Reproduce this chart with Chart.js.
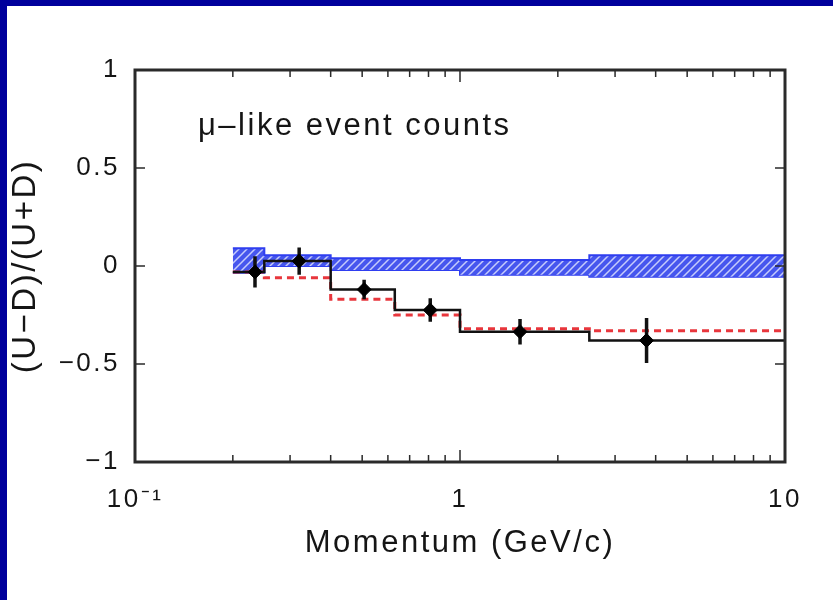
<!DOCTYPE html>
<html>
<head>
<meta charset="utf-8">
<script src="https://cdn.jsdelivr.net/npm/chart.js@4.4.1/dist/chart.umd.min.js"></script>
<style>
  html, body { margin: 0; padding: 0; background: #fff; }
  #wrap { position: relative; width: 833px; height: 600px; }
  .edge { position: absolute; background: #00009c; }
</style>
</head>
<body>
<div id="wrap">
  <canvas id="ratioChart"></canvas>
  <div class="edge" style="left:0;top:0;width:833px;height:6px"></div>
  <div class="edge" style="left:0;top:0;width:7px;height:600px"></div>
</div>
<script>
// bin edges in momentum (GeV/c)
const binEdges = [0.2, 0.25, 0.4, 0.63, 1.0, 2.5, 10];

// no-oscillation MC band (upper / lower edge per bin)
const noOscHigh = [0.09, 0.055, 0.04, 0.04, 0.03, 0.055];
const noOscLow = [-0.035, 0.0, -0.02, -0.02, -0.045, -0.055];

// oscillated MC (red dashed)
const oscMC = [-0.03, -0.06, -0.17, -0.25, -0.32, -0.33];

// data: bin value, marker position, error
const dataRatio = [-0.03, 0.025, -0.12, -0.225, -0.335, -0.38];
const pointMomentum = [0.234, 0.32, 0.507, 0.81, 1.53, 3.75];
const pointError = [0.08, 0.07, 0.05, 0.06, 0.065, 0.115];

// axis ticks
const yTicks = [-1, -0.5, 0, 0.5, 1];
const xMajor = [0.1, 1, 10];
const xMinor = [0.2, 0.3, 0.4, 0.5, 0.6, 0.7, 0.8, 0.9, 2, 3, 4, 5, 6, 7, 8, 9];
const xLabels = { 0.1: '10\u207B\u00B9', 1: '1', 10: '10' };

const FONT = "'Liberation Sans', Arial, sans-serif";
const TXT = '#151515';

// step helper: one point per edge, last value repeated at the final edge
function stepPoints(values) {
    return binEdges.map((e, i) => ({ x: e, y: values[Math.min(i, values.length - 1)] }));
}

// error bars as one line broken by nulls
const errorBars = [];
pointMomentum.forEach((p, i) => {
    errorBars.push({ x: p, y: dataRatio[i] - pointError[i] });
    errorBars.push({ x: p, y: dataRatio[i] + pointError[i] });
    errorBars.push({ x: p, y: null });
});

// hatch pattern for the blue band
function makeHatch() {
    const c = document.createElement('canvas');
    c.width = 8; c.height = 8;
    const g = c.getContext('2d');
    g.fillStyle = '#4656ee';
    g.fillRect(0, 0, 8, 8);
    g.strokeStyle = 'rgba(230,234,255,0.8)';
    g.lineWidth = 1.5;
    g.beginPath();
    g.moveTo(0, 8); g.lineTo(8, 0);
    g.moveTo(-2, 2); g.lineTo(2, -2);
    g.moveTo(6, 10); g.lineTo(10, 6);
    g.stroke();
    return g.createPattern(c, 'repeat');
}

// wider letter spacing, like the scanned figure
const spacingPlugin = {
    id: 'spacing',
    beforeLayout(chart) { chart.ctx.letterSpacing = '2.5px'; },
    beforeDraw(chart) { chart.ctx.letterSpacing = '2.5px'; }
};

// frame with inward ticks + the annotation text
const framePlugin = {
    id: 'frame',
    afterDraw(chart) {
        const { ctx, chartArea: a, scales } = chart;
        const xs = scales.x, ys = scales.y;
        ctx.save();
        ctx.strokeStyle = '#2a2a2a';
        ctx.lineWidth = 1.5;
        ctx.beginPath();
        xMajor.concat(xMinor).forEach(v => {
            const px = xs.getPixelForValue(v);
            const len = xMajor.includes(v) ? 12 : 7;
            ctx.moveTo(px, a.bottom); ctx.lineTo(px, a.bottom - len);
            ctx.moveTo(px, a.top); ctx.lineTo(px, a.top + len);
        });
        yTicks.forEach(v => {
            const py = ys.getPixelForValue(v);
            ctx.moveTo(a.left, py); ctx.lineTo(a.left + 10, py);
            ctx.moveTo(a.right, py); ctx.lineTo(a.right - 10, py);
        });
        ctx.stroke();
        ctx.lineWidth = 3;
        ctx.strokeRect(a.left, a.top, a.right - a.left, a.bottom - a.top);

        ctx.fillStyle = TXT;
        ctx.font = '31px ' + FONT;
        ctx.letterSpacing = '2.5px';
        ctx.textBaseline = 'middle';
        ctx.fillText('\u03BC\u2013like event counts', a.left + 63, a.top + 56);
        ctx.restore();
    }
};

const ctx = document.getElementById('ratioChart').getContext('2d');
new Chart(ctx, {
    type: 'line',
    data: {
        datasets: [
            {   // band upper edge, filled down to the lower edge
                data: stepPoints(noOscHigh),
                stepped: 'before',
                borderColor: '#2f3ef0',
                borderWidth: 2,
                backgroundColor: makeHatch(),
                fill: '+1',
                pointRadius: 0,
                order: 5
            },
            {
                data: stepPoints(noOscLow),
                stepped: 'before',
                borderColor: '#2f3ef0',
                borderWidth: 2,
                fill: false,
                pointRadius: 0,
                order: 5
            },
            {
                data: stepPoints(oscMC),
                stepped: 'before',
                borderColor: '#e8363c',
                borderWidth: 3,
                borderDash: [7, 5],
                fill: false,
                pointRadius: 0,
                order: 4
            },
            {
                data: stepPoints(dataRatio),
                stepped: 'before',
                borderColor: '#111',
                borderWidth: 2.5,
                fill: false,
                pointRadius: 0,
                order: 3
            },
            {
                data: errorBars,
                borderColor: '#111',
                borderWidth: 3.5,
                spanGaps: false,
                fill: false,
                pointRadius: 0,
                order: 2
            },
            {
                data: pointMomentum.map((p, i) => ({ x: p, y: dataRatio[i] })),
                showLine: false,
                pointStyle: 'rectRot',
                pointRadius: 7,
                backgroundColor: '#000',
                borderColor: '#000',
                order: 1
            }
        ]
    },
    options: {
        responsive: true,
        maintainAspectRatio: false,
        animation: false,
        layout: { padding: { left: 6, top: 70, right: 48, bottom: 20 } },
        plugins: {
            legend: { display: false },
            tooltip: { enabled: false }
        },
        scales: {
            x: {
                type: 'logarithmic',
                min: 0.1,
                max: 10,
                afterBuildTicks: s => { s.ticks = xMajor.map(v => ({ value: v })); },
                afterFit: s => { s.height = 118; },
                grid: { display: false, drawTicks: false },
                border: { display: false },
                ticks: {
                    padding: 22,
                    color: TXT,
                    font: { family: FONT, size: 26 },
                    maxRotation: 0,
                    autoSkip: false,
                    callback: v => xLabels[v] || ''
                },
                title: {
                    display: true,
                    text: 'Momentum (GeV/c)',
                    color: TXT,
                    font: { family: FONT, size: 31 },
                    padding: { top: 0, bottom: 18 }
                }
            },
            y: {
                min: -1,
                max: 1,
                afterBuildTicks: s => { s.ticks = yTicks.map(v => ({ value: v })); },
                afterFit: s => { s.width = 129; },
                grid: { display: false, drawTicks: false },
                border: { display: false },
                ticks: {
                    padding: 15,
                    color: TXT,
                    font: { family: FONT, size: 26 },
                    callback: v => v === 0 ? '0' : (v < 0 ? '\u2212' : '') + Math.abs(v)
                },
                title: {
                    display: true,
                    text: '(U\u2212D)/(U+D)',
                    color: TXT,
                    font: { family: FONT, size: 33 },
                    padding: { top: 0, bottom: 0 }
                }
            }
        }
    },
    plugins: [spacingPlugin, framePlugin]
});
</script>
</body>
</html>
